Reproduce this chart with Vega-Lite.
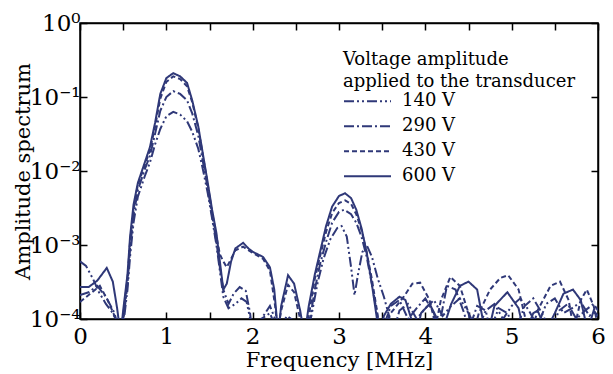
{
  "$schema": "https://vega.github.io/schema/vega-lite/v6.json",
  "width": 518,
  "height": 296,
  "autosize": "none",
  "padding": {"left": 80, "top": 23, "right": 15, "bottom": 55},
  "background": "white",
  "config": {
    "font": "DejaVu Serif",
    "view": {"stroke": "black", "strokeWidth": 1.5},
    "axis": {"grid": false, "domainColor": "black", "domainWidth": 1.5, "tickColor": "black", "tickWidth": 1.5, "labelColor": "black", "titleColor": "black", "labelFont": "DejaVu Serif", "titleFont": "DejaVu Serif", "labelFontSize": 23, "titleFontSize": 21, "titleFontWeight": "normal", "labelFlush": false, "labelOverlap": false}
  },
  "data": {"values": [
    {"v":"600 V","f":0.0,"a":2.7e-4},{"v":"600 V","f":0.1,"a":2.7e-4},{"v":"600 V","f":0.2,"a":3.3e-4},{"v":"600 V","f":0.31,"a":4.9e-4},{"v":"600 V","f":0.38,"a":3.2e-4},{"v":"600 V","f":0.43,"a":1.4e-4},{"v":"600 V","f":0.47,"a":6e-5},{"v":"600 V","f":0.5,"a":1.3e-4},{"v":"600 V","f":0.55,"a":4e-4},{"v":"600 V","f":0.58,"a":1.3e-3},{"v":"600 V","f":0.62,"a":3.5e-3},{"v":"600 V","f":0.67,"a":6.9e-3},{"v":"600 V","f":0.75,"a":1.3e-2},{"v":"600 V","f":0.81,"a":2.1e-2},{"v":"600 V","f":0.87,"a":4.5e-2},{"v":"600 V","f":0.93,"a":0.11},{"v":"600 V","f":1.0,"a":0.18},{"v":"600 V","f":1.08,"a":0.21},{"v":"600 V","f":1.16,"a":0.19},{"v":"600 V","f":1.24,"a":0.155},{"v":"600 V","f":1.3,"a":0.09},{"v":"600 V","f":1.37,"a":0.04},{"v":"600 V","f":1.42,"a":0.018},{"v":"600 V","f":1.48,"a":6.9e-3},{"v":"600 V","f":1.53,"a":3e-3},{"v":"600 V","f":1.58,"a":1.45e-3},{"v":"600 V","f":1.62,"a":6e-4},{"v":"600 V","f":1.66,"a":2.5e-4},{"v":"600 V","f":1.7,"a":3e-4},{"v":"600 V","f":1.75,"a":6e-4},{"v":"600 V","f":1.8,"a":9e-4},{"v":"600 V","f":1.89,"a":1.07e-3},{"v":"600 V","f":1.95,"a":9e-4},{"v":"600 V","f":2.0,"a":8.1e-4},{"v":"600 V","f":2.12,"a":6.9e-4},{"v":"600 V","f":2.2,"a":5e-4},{"v":"600 V","f":2.25,"a":2.5e-4},{"v":"600 V","f":2.28,"a":1e-4},{"v":"600 V","f":2.3,"a":7e-5},{"v":"600 V","f":2.33,"a":1.5e-4},{"v":"600 V","f":2.41,"a":3.9e-4},{"v":"600 V","f":2.48,"a":3e-4},{"v":"600 V","f":2.55,"a":1.3e-4},{"v":"600 V","f":2.6,"a":6e-5},{"v":"600 V","f":2.65,"a":1.5e-4},{"v":"600 V","f":2.72,"a":4e-4},{"v":"600 V","f":2.78,"a":8e-4},{"v":"600 V","f":2.85,"a":1.8e-3},{"v":"600 V","f":2.92,"a":3.3e-3},{"v":"600 V","f":3.0,"a":4.6e-3},{"v":"600 V","f":3.07,"a":5e-3},{"v":"600 V","f":3.14,"a":4.3e-3},{"v":"600 V","f":3.2,"a":3e-3},{"v":"600 V","f":3.26,"a":1.7e-3},{"v":"600 V","f":3.32,"a":8e-4},{"v":"600 V","f":3.38,"a":3e-4},{"v":"600 V","f":3.44,"a":1e-4},{"v":"600 V","f":3.47,"a":6e-5},{"v":"600 V","f":3.52,"a":1.1e-4},{"v":"600 V","f":3.6,"a":1.6e-4},{"v":"600 V","f":3.7,"a":2e-4},{"v":"600 V","f":3.77,"a":1.8e-4},{"v":"600 V","f":3.85,"a":9e-5},{"v":"600 V","f":3.9,"a":6e-5},{"v":"600 V","f":3.95,"a":1.2e-4},{"v":"600 V","f":4.05,"a":1.6e-4},{"v":"600 V","f":4.12,"a":1.1e-4},{"v":"600 V","f":4.18,"a":6e-5},{"v":"600 V","f":4.3,"a":1.6e-4},{"v":"600 V","f":4.4,"a":2.8e-4},{"v":"600 V","f":4.5,"a":3.2e-4},{"v":"600 V","f":4.6,"a":2.5e-4},{"v":"600 V","f":4.68,"a":8e-5},{"v":"600 V","f":4.72,"a":6e-5},{"v":"600 V","f":4.8,"a":1.5e-4},{"v":"600 V","f":4.95,"a":2.3e-4},{"v":"600 V","f":5.08,"a":1.4e-4},{"v":"600 V","f":5.15,"a":6e-5},{"v":"600 V","f":5.25,"a":1.2e-4},{"v":"600 V","f":5.3,"a":1.3e-4},{"v":"600 V","f":5.4,"a":7e-5},{"v":"600 V","f":5.5,"a":1.2e-4},{"v":"600 V","f":5.6,"a":2.2e-4},{"v":"600 V","f":5.71,"a":2.5e-4},{"v":"600 V","f":5.8,"a":1.8e-4},{"v":"600 V","f":5.88,"a":7e-5},{"v":"600 V","f":5.95,"a":1.3e-4},{"v":"600 V","f":6.0,"a":1.1e-4},

    {"v":"430 V","f":0.0,"a":1.7e-4},{"v":"430 V","f":0.12,"a":2.2e-4},{"v":"430 V","f":0.23,"a":2.8e-4},{"v":"430 V","f":0.32,"a":1.8e-4},{"v":"430 V","f":0.4,"a":1.1e-4},{"v":"430 V","f":0.45,"a":6e-5},{"v":"430 V","f":0.5,"a":1.1e-4},{"v":"430 V","f":0.55,"a":3.5e-4},{"v":"430 V","f":0.58,"a":1.1e-3},{"v":"430 V","f":0.62,"a":3e-3},{"v":"430 V","f":0.67,"a":6.5e-3},{"v":"430 V","f":0.75,"a":1.2e-2},{"v":"430 V","f":0.81,"a":1.9e-2},{"v":"430 V","f":0.87,"a":4e-2},{"v":"430 V","f":0.93,"a":0.095},{"v":"430 V","f":1.0,"a":0.16},{"v":"430 V","f":1.08,"a":0.19},{"v":"430 V","f":1.16,"a":0.175},{"v":"430 V","f":1.24,"a":0.14},{"v":"430 V","f":1.3,"a":0.085},{"v":"430 V","f":1.37,"a":0.038},{"v":"430 V","f":1.42,"a":0.017},{"v":"430 V","f":1.48,"a":6.5e-3},{"v":"430 V","f":1.53,"a":2.8e-3},{"v":"430 V","f":1.58,"a":1.3e-3},{"v":"430 V","f":1.62,"a":7.5e-4},{"v":"430 V","f":1.66,"a":6e-4},{"v":"430 V","f":1.7,"a":5e-4},{"v":"430 V","f":1.75,"a":6.5e-4},{"v":"430 V","f":1.8,"a":8.5e-4},{"v":"430 V","f":1.89,"a":9.5e-4},{"v":"430 V","f":1.95,"a":8.5e-4},{"v":"430 V","f":2.0,"a":7.8e-4},{"v":"430 V","f":2.12,"a":6.5e-4},{"v":"430 V","f":2.2,"a":4.5e-4},{"v":"430 V","f":2.26,"a":1.5e-4},{"v":"430 V","f":2.29,"a":7e-5},{"v":"430 V","f":2.33,"a":1.3e-4},{"v":"430 V","f":2.41,"a":2.9e-4},{"v":"430 V","f":2.48,"a":2.3e-4},{"v":"430 V","f":2.55,"a":1e-4},{"v":"430 V","f":2.6,"a":6e-5},{"v":"430 V","f":2.66,"a":1.3e-4},{"v":"430 V","f":2.72,"a":3.5e-4},{"v":"430 V","f":2.78,"a":7e-4},{"v":"430 V","f":2.85,"a":1.5e-3},{"v":"430 V","f":2.92,"a":2.7e-3},{"v":"430 V","f":3.0,"a":3.7e-3},{"v":"430 V","f":3.07,"a":4e-3},{"v":"430 V","f":3.14,"a":3.6e-3},{"v":"430 V","f":3.2,"a":2.6e-3},{"v":"430 V","f":3.26,"a":1.6e-3},{"v":"430 V","f":3.32,"a":8e-4},{"v":"430 V","f":3.38,"a":3.5e-4},{"v":"430 V","f":3.44,"a":1.3e-4},{"v":"430 V","f":3.48,"a":6e-5},{"v":"430 V","f":3.6,"a":1.2e-4},{"v":"430 V","f":3.75,"a":2e-4},{"v":"430 V","f":3.85,"a":3e-4},{"v":"430 V","f":3.94,"a":3.1e-4},{"v":"430 V","f":4.05,"a":1.8e-4},{"v":"430 V","f":4.12,"a":8e-5},{"v":"430 V","f":4.18,"a":1.8e-4},{"v":"430 V","f":4.29,"a":3.7e-4},{"v":"430 V","f":4.4,"a":2.8e-4},{"v":"430 V","f":4.5,"a":1.2e-4},{"v":"430 V","f":4.55,"a":6e-5},{"v":"430 V","f":4.62,"a":1.2e-4},{"v":"430 V","f":4.75,"a":2.5e-4},{"v":"430 V","f":4.87,"a":3.6e-4},{"v":"430 V","f":4.96,"a":3.9e-4},{"v":"430 V","f":5.08,"a":2.5e-4},{"v":"430 V","f":5.18,"a":8e-5},{"v":"430 V","f":5.22,"a":6e-5},{"v":"430 V","f":5.3,"a":1.3e-4},{"v":"430 V","f":5.45,"a":2.8e-4},{"v":"430 V","f":5.56,"a":3.2e-4},{"v":"430 V","f":5.66,"a":1.8e-4},{"v":"430 V","f":5.72,"a":7e-5},{"v":"430 V","f":5.8,"a":1.8e-4},{"v":"430 V","f":5.87,"a":2.5e-4},{"v":"430 V","f":5.95,"a":1.5e-4},{"v":"430 V","f":6.0,"a":8e-5},

    {"v":"290 V","f":0.0,"a":2.1e-4},{"v":"290 V","f":0.1,"a":2.3e-4},{"v":"290 V","f":0.2,"a":2.8e-4},{"v":"290 V","f":0.3,"a":2e-4},{"v":"290 V","f":0.4,"a":1.2e-4},{"v":"290 V","f":0.45,"a":7e-5},{"v":"290 V","f":0.5,"a":9e-5},{"v":"290 V","f":0.55,"a":3e-4},{"v":"290 V","f":0.58,"a":9e-4},{"v":"290 V","f":0.62,"a":2.5e-3},{"v":"290 V","f":0.67,"a":5.5e-3},{"v":"290 V","f":0.75,"a":1.05e-2},{"v":"290 V","f":0.81,"a":1.6e-2},{"v":"290 V","f":0.87,"a":3.2e-2},{"v":"290 V","f":0.93,"a":0.065},{"v":"290 V","f":1.0,"a":0.1},{"v":"290 V","f":1.08,"a":0.12},{"v":"290 V","f":1.16,"a":0.11},{"v":"290 V","f":1.24,"a":0.09},{"v":"290 V","f":1.3,"a":0.06},{"v":"290 V","f":1.37,"a":0.03},{"v":"290 V","f":1.42,"a":0.014},{"v":"290 V","f":1.48,"a":5.8e-3},{"v":"290 V","f":1.53,"a":2.5e-3},{"v":"290 V","f":1.58,"a":1.1e-3},{"v":"290 V","f":1.62,"a":5e-4},{"v":"290 V","f":1.66,"a":2.5e-4},{"v":"290 V","f":1.72,"a":1.6e-4},{"v":"290 V","f":1.78,"a":2.2e-4},{"v":"290 V","f":1.85,"a":2.7e-4},{"v":"290 V","f":1.92,"a":2.4e-4},{"v":"290 V","f":1.97,"a":1.2e-4},{"v":"290 V","f":2.0,"a":6e-5},{"v":"290 V","f":2.1,"a":1e-4},{"v":"290 V","f":2.2,"a":1.2e-4},{"v":"290 V","f":2.28,"a":7e-5},{"v":"290 V","f":2.4,"a":1.1e-4},{"v":"290 V","f":2.5,"a":9e-5},{"v":"290 V","f":2.6,"a":6e-5},{"v":"290 V","f":2.67,"a":1.1e-4},{"v":"290 V","f":2.72,"a":2.5e-4},{"v":"290 V","f":2.78,"a":5.5e-4},{"v":"290 V","f":2.85,"a":1.1e-3},{"v":"290 V","f":2.92,"a":2e-3},{"v":"290 V","f":3.0,"a":2.8e-3},{"v":"290 V","f":3.06,"a":3e-3},{"v":"290 V","f":3.14,"a":2.6e-3},{"v":"290 V","f":3.2,"a":2e-3},{"v":"290 V","f":3.26,"a":1.3e-3},{"v":"290 V","f":3.32,"a":7e-4},{"v":"290 V","f":3.38,"a":3e-4},{"v":"290 V","f":3.44,"a":1.2e-4},{"v":"290 V","f":3.48,"a":6e-5},{"v":"290 V","f":3.6,"a":1.5e-4},{"v":"290 V","f":3.7,"a":1.8e-4},{"v":"290 V","f":3.8,"a":1e-4},{"v":"290 V","f":3.9,"a":1.4e-4},{"v":"290 V","f":4.0,"a":1.9e-4},{"v":"290 V","f":4.1,"a":1.2e-4},{"v":"290 V","f":4.15,"a":7e-5},{"v":"290 V","f":4.25,"a":2.8e-4},{"v":"290 V","f":4.35,"a":2.5e-4},{"v":"290 V","f":4.45,"a":1.2e-4},{"v":"290 V","f":4.5,"a":7e-5},{"v":"290 V","f":4.6,"a":1.5e-4},{"v":"290 V","f":4.7,"a":1.3e-4},{"v":"290 V","f":4.75,"a":7e-5},{"v":"290 V","f":4.85,"a":1.4e-4},{"v":"290 V","f":4.95,"a":1.2e-4},{"v":"290 V","f":5.05,"a":7e-5},{"v":"290 V","f":5.15,"a":1.5e-4},{"v":"290 V","f":5.25,"a":1.9e-4},{"v":"290 V","f":5.35,"a":1.2e-4},{"v":"290 V","f":5.45,"a":7e-5},{"v":"290 V","f":5.55,"a":1.3e-4},{"v":"290 V","f":5.65,"a":1.6e-4},{"v":"290 V","f":5.75,"a":1e-4},{"v":"290 V","f":5.85,"a":1.3e-4},{"v":"290 V","f":5.95,"a":1.6e-4},{"v":"290 V","f":6.0,"a":1.3e-4},

    {"v":"140 V","f":0.0,"a":6e-4},{"v":"140 V","f":0.07,"a":5.2e-4},{"v":"140 V","f":0.15,"a":3.5e-4},{"v":"140 V","f":0.22,"a":2.3e-4},{"v":"140 V","f":0.3,"a":1.6e-4},{"v":"140 V","f":0.38,"a":1.2e-4},{"v":"140 V","f":0.45,"a":8e-5},{"v":"140 V","f":0.5,"a":8e-5},{"v":"140 V","f":0.55,"a":2.5e-4},{"v":"140 V","f":0.58,"a":7e-4},{"v":"140 V","f":0.62,"a":2e-3},{"v":"140 V","f":0.67,"a":4.5e-3},{"v":"140 V","f":0.75,"a":8.5e-3},{"v":"140 V","f":0.81,"a":1.3e-2},{"v":"140 V","f":0.87,"a":2.3e-2},{"v":"140 V","f":0.93,"a":0.037},{"v":"140 V","f":1.0,"a":0.055},{"v":"140 V","f":1.08,"a":0.063},{"v":"140 V","f":1.16,"a":0.058},{"v":"140 V","f":1.24,"a":0.047},{"v":"140 V","f":1.3,"a":0.034},{"v":"140 V","f":1.37,"a":0.02},{"v":"140 V","f":1.42,"a":0.011},{"v":"140 V","f":1.48,"a":5e-3},{"v":"140 V","f":1.53,"a":2.3e-3},{"v":"140 V","f":1.58,"a":1e-3},{"v":"140 V","f":1.62,"a":4.5e-4},{"v":"140 V","f":1.66,"a":2e-4},{"v":"140 V","f":1.72,"a":1.4e-4},{"v":"140 V","f":1.8,"a":1.6e-4},{"v":"140 V","f":1.87,"a":1.9e-4},{"v":"140 V","f":1.93,"a":1.7e-4},{"v":"140 V","f":1.98,"a":9e-5},{"v":"140 V","f":2.02,"a":6e-5},{"v":"140 V","f":2.1,"a":1e-4},{"v":"140 V","f":2.2,"a":1.5e-4},{"v":"140 V","f":2.26,"a":1e-4},{"v":"140 V","f":2.3,"a":6e-5},{"v":"140 V","f":2.45,"a":1e-4},{"v":"140 V","f":2.55,"a":8e-5},{"v":"140 V","f":2.62,"a":6e-5},{"v":"140 V","f":2.68,"a":1.1e-4},{"v":"140 V","f":2.75,"a":3e-4},{"v":"140 V","f":2.82,"a":6.5e-4},{"v":"140 V","f":2.9,"a":1.2e-3},{"v":"140 V","f":2.98,"a":1.7e-3},{"v":"140 V","f":3.03,"a":1.8e-3},{"v":"140 V","f":3.09,"a":1.3e-3},{"v":"140 V","f":3.14,"a":5e-4},{"v":"140 V","f":3.18,"a":2.1e-4},{"v":"140 V","f":3.22,"a":4e-4},{"v":"140 V","f":3.27,"a":8e-4},{"v":"140 V","f":3.32,"a":1e-3},{"v":"140 V","f":3.38,"a":7e-4},{"v":"140 V","f":3.45,"a":3.5e-4},{"v":"140 V","f":3.52,"a":2e-4},{"v":"140 V","f":3.58,"a":1.1e-4},{"v":"140 V","f":3.62,"a":6e-5},{"v":"140 V","f":3.7,"a":1.3e-4},{"v":"140 V","f":3.8,"a":1.6e-4},{"v":"140 V","f":3.9,"a":1e-4},{"v":"140 V","f":4.0,"a":1.4e-4},{"v":"140 V","f":4.1,"a":1.8e-4},{"v":"140 V","f":4.2,"a":1.1e-4},{"v":"140 V","f":4.3,"a":1.5e-4},{"v":"140 V","f":4.4,"a":1.9e-4},{"v":"140 V","f":4.5,"a":1.2e-4},{"v":"140 V","f":4.6,"a":7e-5},{"v":"140 V","f":4.7,"a":1.3e-4},{"v":"140 V","f":4.8,"a":1.6e-4},{"v":"140 V","f":4.9,"a":1e-4},{"v":"140 V","f":5.0,"a":1.5e-4},{"v":"140 V","f":5.1,"a":1.9e-4},{"v":"140 V","f":5.2,"a":1.3e-4},{"v":"140 V","f":5.3,"a":8e-5},{"v":"140 V","f":5.4,"a":1.6e-4},{"v":"140 V","f":5.5,"a":1.9e-4},{"v":"140 V","f":5.6,"a":1.2e-4},{"v":"140 V","f":5.7,"a":1.4e-4},{"v":"140 V","f":5.8,"a":1.7e-4},{"v":"140 V","f":5.9,"a":1.1e-4},{"v":"140 V","f":6.0,"a":1.3e-4}
  ]},
  "layer": [
    {
      "mark": {"type": "line", "color": "#2f3878", "strokeWidth": 2, "clip": true},
      "encoding": {
        "x": {"field": "f", "type": "quantitative", "scale": {"domain": [0, 6], "nice": false, "zero": false},
          "axis": {"orient": "bottom", "title": "Frequency [MHz]", "values": [0, 0.5, 1, 1.5, 2, 2.5, 3, 3.5, 4, 4.5, 5, 5.5, 6], "labelExpr": "datum.value % 1 === 0 ? format(datum.value, 'd') : ''", "tickSize": -7, "labelPadding": 13, "titlePadding": 1}},
        "y": {"field": "a", "type": "quantitative", "scale": {"type": "log", "domain": [0.0001, 1], "nice": false},
          "axis": {"orient": "left", "title": "Amplitude spectrum", "values": [0.0001, 0.001, 0.01, 0.1, 1], "labelExpr": "['10⁰','10⁻¹','10⁻²','10⁻³','10⁻⁴'][round(-log(datum.value)/LN10)]", "tickSize": -7, "labelPadding": 7, "titlePadding": -4}},
        "strokeDash": {"field": "v", "type": "nominal",
          "scale": {"domain": ["140 V", "290 V", "430 V", "600 V"], "range": [[10, 3, 2, 3, 2, 3], [10, 3, 2, 3], [5, 3], [1, 0]]},
          "legend": {"orient": "none", "legendX": 263, "legendY": 28, "title": ["Voltage amplitude", "applied to the transducer"], "titleLimit": 400, "titleFontSize": 18, "titleFontWeight": "normal", "titleLineHeight": 22, "titlePadding": -2, "titleColor": "black", "titleFont": "DejaVu Serif", "labelFont": "DejaVu Serif", "labelFontSize": 18, "labelColor": "black", "labelOffset": 10, "symbolType": "stroke", "symbolSize": 2209, "symbolStrokeWidth": 2, "symbolStrokeColor": "#2f3878", "clipHeight": 24.5, "rowPadding": 0}}
      }
    },
    {
      "mark": {"type": "line", "opacity": 0},
      "encoding": {
        "x": {"field": "f", "type": "quantitative", "axis": {"orient": "top", "title": null, "labels": false, "values": [0, 0.5, 1, 1.5, 2, 2.5, 3, 3.5, 4, 4.5, 5, 5.5, 6], "tickSize": -7}},
        "y": {"field": "a", "type": "quantitative", "axis": {"orient": "right", "title": null, "labels": false, "values": [0.0001, 0.001, 0.01, 0.1, 1], "tickSize": -7}}
      }
    }
  ],
  "resolve": {"axis": {"x": "independent", "y": "independent"}}
}
